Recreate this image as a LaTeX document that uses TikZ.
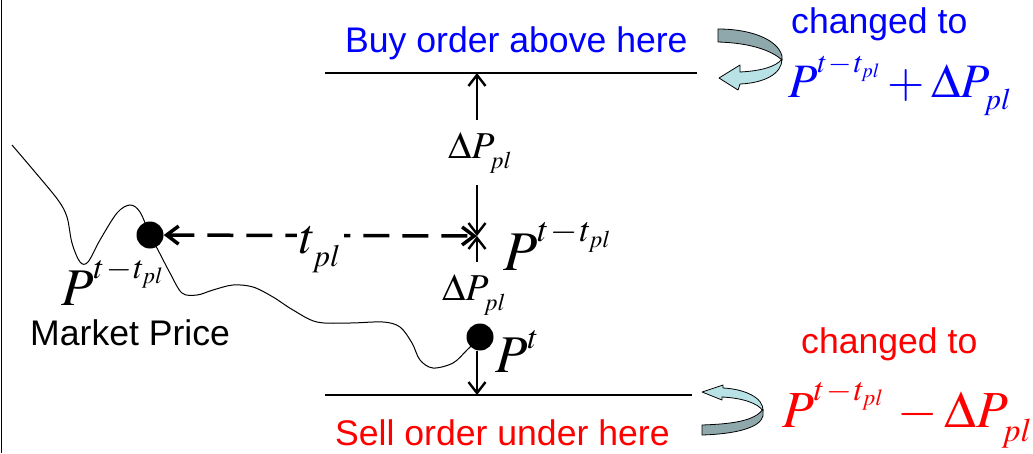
\documentclass[tikz,border=0pt]{standalone}
\usepackage{mathptmx}
\usepackage[no-math]{fontspec}
\setmainfont{Liberation Sans}
\usetikzlibrary{arrows.meta, positioning}

\DeclareMathSizes{56}{56}{35}{24}
\DeclareMathSizes{53}{53}{33}{23}
\DeclareMathSizes{52}{52}{33}{23}
\DeclareMathSizes{50}{50}{31}{21}
\DeclareMathSizes{48}{48}{30}{20}
\DeclareMathSizes{38}{38}{24}{17}

\definecolor{ribbondark}{RGB}{143,168,172}
\definecolor{ribbonlight}{RGB}{184,226,230}

% lowered subscript pl, raised lag exponent
\newcommand{\lowpl}{\lower0.12em\hbox{$\scriptstyle pl$}}
\newcommand{\Plag}{P^{\raisebox{0.14em}{$\scriptstyle t\mkern1mu-\mkern1mu t_{pl}$}}}
\newcommand{\dPpl}{\Delta P_{\lowpl}}

\begin{document}
\begin{tikzpicture}[
      x=1pt, y=-1pt,
      sans/.style={font=\fontsize{35.6}{40}\selectfont, inner sep=0pt, anchor=base west},
      mlbl/.style={inner sep=0pt, anchor=base west},
      dplbl/.style={mlbl, inner ysep=12pt, font=\fontsize{38}{42}\selectfont},
      dot/.style={circle, fill=black, minimum size=27pt, inner sep=0pt},
      level/.style={line width=2.4pt},
      arr/.style={-{Straight Barb[length=11pt, width=17pt]}, line width=2.4pt},
      lagarr/.style={{Straight Barb[length=12pt, width=18pt]}-{Straight Barb[length=12pt, width=18pt]}, line width=3.5pt, dash pattern=on 26pt off 13pt},
      price/.style={line width=1pt},
      ribbon/.style={draw=black, line width=0.8pt, line join=round}
    ]
      \useasboundingbox (0,0) rectangle (1033,453);
      \draw[line width=1.5pt] (1.5,0) -- (1.5,453);

      % order levels
      \coordinate (buyL) at (325,73);
      \coordinate (buyR) at (697,73);
      \coordinate (sellL) at (325,395);
      \coordinate (sellR) at (692,395);
      \coordinate (buyhit) at (477,73);
      \coordinate (sellhit) at (477,395);
      \coordinate (ref) at (477,236);
      \draw[level] (buyL) -- (buyR);
      \draw[level] (sellL) -- (sellR);

      \node[sans, text=blue] (buytxt) at (345,52) {Buy order above here};
      \node[sans, text=red] (selltxt) at (335,445) {Sell order under here};

      % market price
      \draw[price] plot[smooth, tension=0.55] coordinates {(12,145) (35,172) (58,200) (67,217) (72,243) (80,262) (88,262) (100,240) (117,213) (130,205) (140,212) (150,235) (158,250) (170,273) (182,293) (197,295) (213,290) (233,285) (253,287) (273,297) (293,310) (317,322) (350,323) (383,322) (400,327) (412,343) (420,360) (433,368) (453,363) (467,350) (480,337)};
      \node[dot] (old) at (150,235) {};
      \node[dot] (now) at (480,337) {};
      \node[mlbl, font=\fontsize{53}{58}\selectfont] (Pold) at (61,305) {$\Plag$};
      \node[sans] (mkt) at (30,345) {Market Price};
      \node[mlbl, font=\fontsize{53}{58}\selectfont] (Pnow) at (495,372) {$P^{\raisebox{0.08em}{$\scriptstyle t$}}$};

      \draw[lagarr] (old) -- node[midway, fill=white, inner sep=3pt, yshift=-14pt, font=\fontsize{50}{54}\selectfont] (tlag) {$t_{\lowpl}$} (ref);

      % delta P steps
      \node[mlbl, font=\fontsize{56}{60}\selectfont] (Pref) at (503,270) {$\Plag$};
      \node[dplbl] (dPup) at (448,158) {$\dPpl$};
      \node[dplbl] (dPdn) at (442,300) {$\dPpl$};
      \draw[arr] (dPup.north -| ref) -- (buyhit);
      \draw[arr] (dPup.south -| ref) -- (ref);
      \draw[arr] (dPdn.north -| ref) -- (ref);
      \draw[arr] (now.south -| sellhit) -- (sellhit);

      % buy side change
      \fill[ribbon, fill=ribbondark] (718,29) .. controls (752,29) and (778,40) .. (782,56) -- (782,60) .. controls (772,51) and (752,43) .. (718,42) -- cycle;
      \fill[ribbon, fill=ribbonlight] (782,59) .. controls (782,74) and (764,83) .. (740,84) -- (738,90) -- (719,78) -- (740,65) -- (740,72) .. controls (760,71) and (776,67) .. (782,59) -- cycle;
      \node[sans, text=blue] (chgbuy) at (791,33) {changed to};
      \node[mlbl, text=blue, font=\fontsize{48}{52}\selectfont] (newbuy) at (788,97) {$\Plag + \dPpl$};

      % sell side change
      \fill[ribbon, fill=ribbonlight] (763,411) .. controls (764,398) and (745,389) .. (723,388) -- (723,385) -- (702,392) -- (722,400) -- (722,397) .. controls (742,398) and (758,403) .. (763,411) -- cycle;
      \fill[ribbon, fill=ribbondark] (763,409) -- (763,416) .. controls (760,428) and (735,434) .. (702,435) -- (702,425) .. controls (732,424) and (755,421) .. (763,409) -- cycle;
      \node[sans, text=red] (chgsell) at (801,353) {changed to};
      \node[mlbl, text=red, font=\fontsize{52}{56}\selectfont] (newsell) at (782,427) {$\Plag \,-\dPpl$};
    \end{tikzpicture}
\end{document}
